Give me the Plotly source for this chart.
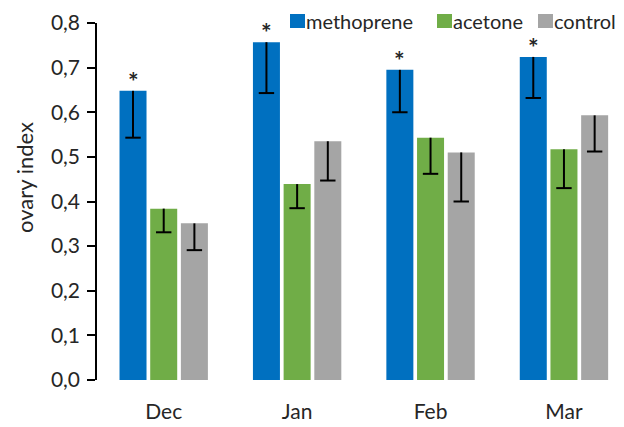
import plotly.graph_objects as go

months = ["Dec", "Jan", "Feb", "Mar"]
series_names = ["methoprene", "acetone", "control"]
methoprene = [0.648, 0.757, 0.695, 0.724]
acetone = [0.384, 0.439, 0.543, 0.517]
control = [0.351, 0.535, 0.510, 0.593]
methoprene_err = [0.105, 0.114, 0.095, 0.092]
acetone_err = [0.053, 0.054, 0.081, 0.087]
control_err = [0.060, 0.088, 0.110, 0.081]
significant = [True, True, True, True]
y_ticks = [0.0, 0.1, 0.2, 0.3, 0.4, 0.5, 0.6, 0.7, 0.8]

colors = ["#0070C0", "#70AD47", "#A5A5A5"]
values = [methoprene, acetone, control]
errors = [methoprene_err, acetone_err, control_err]

FONT = "Lato"
TXT = "#262626"
BARGAP = 0.31
GROUPGAP = 0.12

# The page body has an 8px margin, so the figure is drawn 8px in from the
# window's top-left corner; size it so it ends exactly at the window edges.
PAGE = 8
W, H = 624 - PAGE, 427 - PAGE
L, R, T, B = 97 - PAGE, 0, 23 - PAGE, 427 - 380
PW, PH = W - L - R, H - T - B


def px_x(p):
    """window pixel x -> paper x"""
    return (p - PAGE - L) / PW


def px_y(p):
    """window pixel y -> paper y"""
    return (H - B - (p - PAGE)) / PH


xpos = list(range(len(months)))
slot = (1 - BARGAP) / len(series_names)

fig = go.Figure()
for k, (name, vals, col) in enumerate(zip(series_names, values, colors)):
    fig.add_trace(go.Bar(
        x=xpos, y=vals, name=name, showlegend=False,
        marker=dict(color=col, line=dict(width=0)),
    ))

# minus-only error bars (no cap at the bar top)
for k, (vals, errs) in enumerate(zip(values, errors)):
    off = (k - 1) * slot
    fig.add_trace(go.Scatter(
        x=[i + off for i in xpos],
        y=[v - e for v, e in zip(vals, errs)],
        mode="markers", showlegend=False, hoverinfo="skip",
        marker=dict(symbol="line-ew", size=11, color="black",
                    line=dict(color="black", width=2)),
        error_y=dict(type="data", symmetric=False, array=errs,
                     arrayminus=[0] * len(errs), color="black",
                     thickness=2, width=0),
    ))

# asterisks above the methoprene bars
off_m = -slot
for i, (m, sig) in enumerate(zip(methoprene, significant)):
    if sig:
        fig.add_annotation(x=i + off_m, y=m, xref="x", yref="y", text="<b>*</b>",
                           showarrow=False, yanchor="bottom", yshift=-7,
                           font=dict(family=FONT, size=25, color=TXT))

# y-axis title
fig.add_annotation(text="ovary index", xref="paper", yref="paper",
                   x=px_x(24), y=px_y(178), textangle=-90, showarrow=False,
                   xanchor="center", yanchor="middle", borderpad=0,
                   font=dict(family=FONT, size=22, color=TXT))

# legend (squares + labels)
legend_items = [(290, "methoprene"), (437, "acetone"), (538, "control")]
LEG_Y = 21
for (x0, label), col in zip(legend_items, colors):
    fig.add_shape(type="rect", xref="paper", yref="paper",
                  x0=px_x(x0), x1=px_x(x0 + 15),
                  y0=px_y(LEG_Y + 7), y1=px_y(LEG_Y - 7),
                  fillcolor=col, line=dict(width=0))
    fig.add_annotation(text=label, xref="paper", yref="paper",
                       x=px_x(x0 + 15), y=px_y(LEG_Y), xanchor="left",
                       yanchor="middle", showarrow=False, borderpad=0,
                       font=dict(family=FONT, size=20, color=TXT))

fig.update_layout(
    template="none",
    width=W, height=H,
    margin=dict(l=L, r=R, t=T, b=B, pad=0),
    paper_bgcolor="white", plot_bgcolor="white",
    barmode="group", bargap=BARGAP, bargroupgap=GROUPGAP,
    separators=",.",
    font=dict(family=FONT, size=21, color=TXT),
    showlegend=False,
    xaxis=dict(range=[-0.5, 3.45], tickvals=xpos, ticktext=months,
               showline=False, ticks="", showgrid=False, zeroline=False,
               automargin=False, ticklabelstandoff=17,
               tickfont=dict(family=FONT, size=21, color=TXT)),
    yaxis=dict(range=[0, 0.8], tickvals=y_ticks, tickformat=".1f",
               showline=True, linecolor="black", linewidth=1.5,
               ticks="outside", ticklen=8, tickcolor="black", tickwidth=1.5,
               showgrid=False, zeroline=False, automargin=False,
               ticklabelstandoff=3,
               tickfont=dict(family=FONT, size=21, color=TXT)),
)

fig.write_html("out.html")
